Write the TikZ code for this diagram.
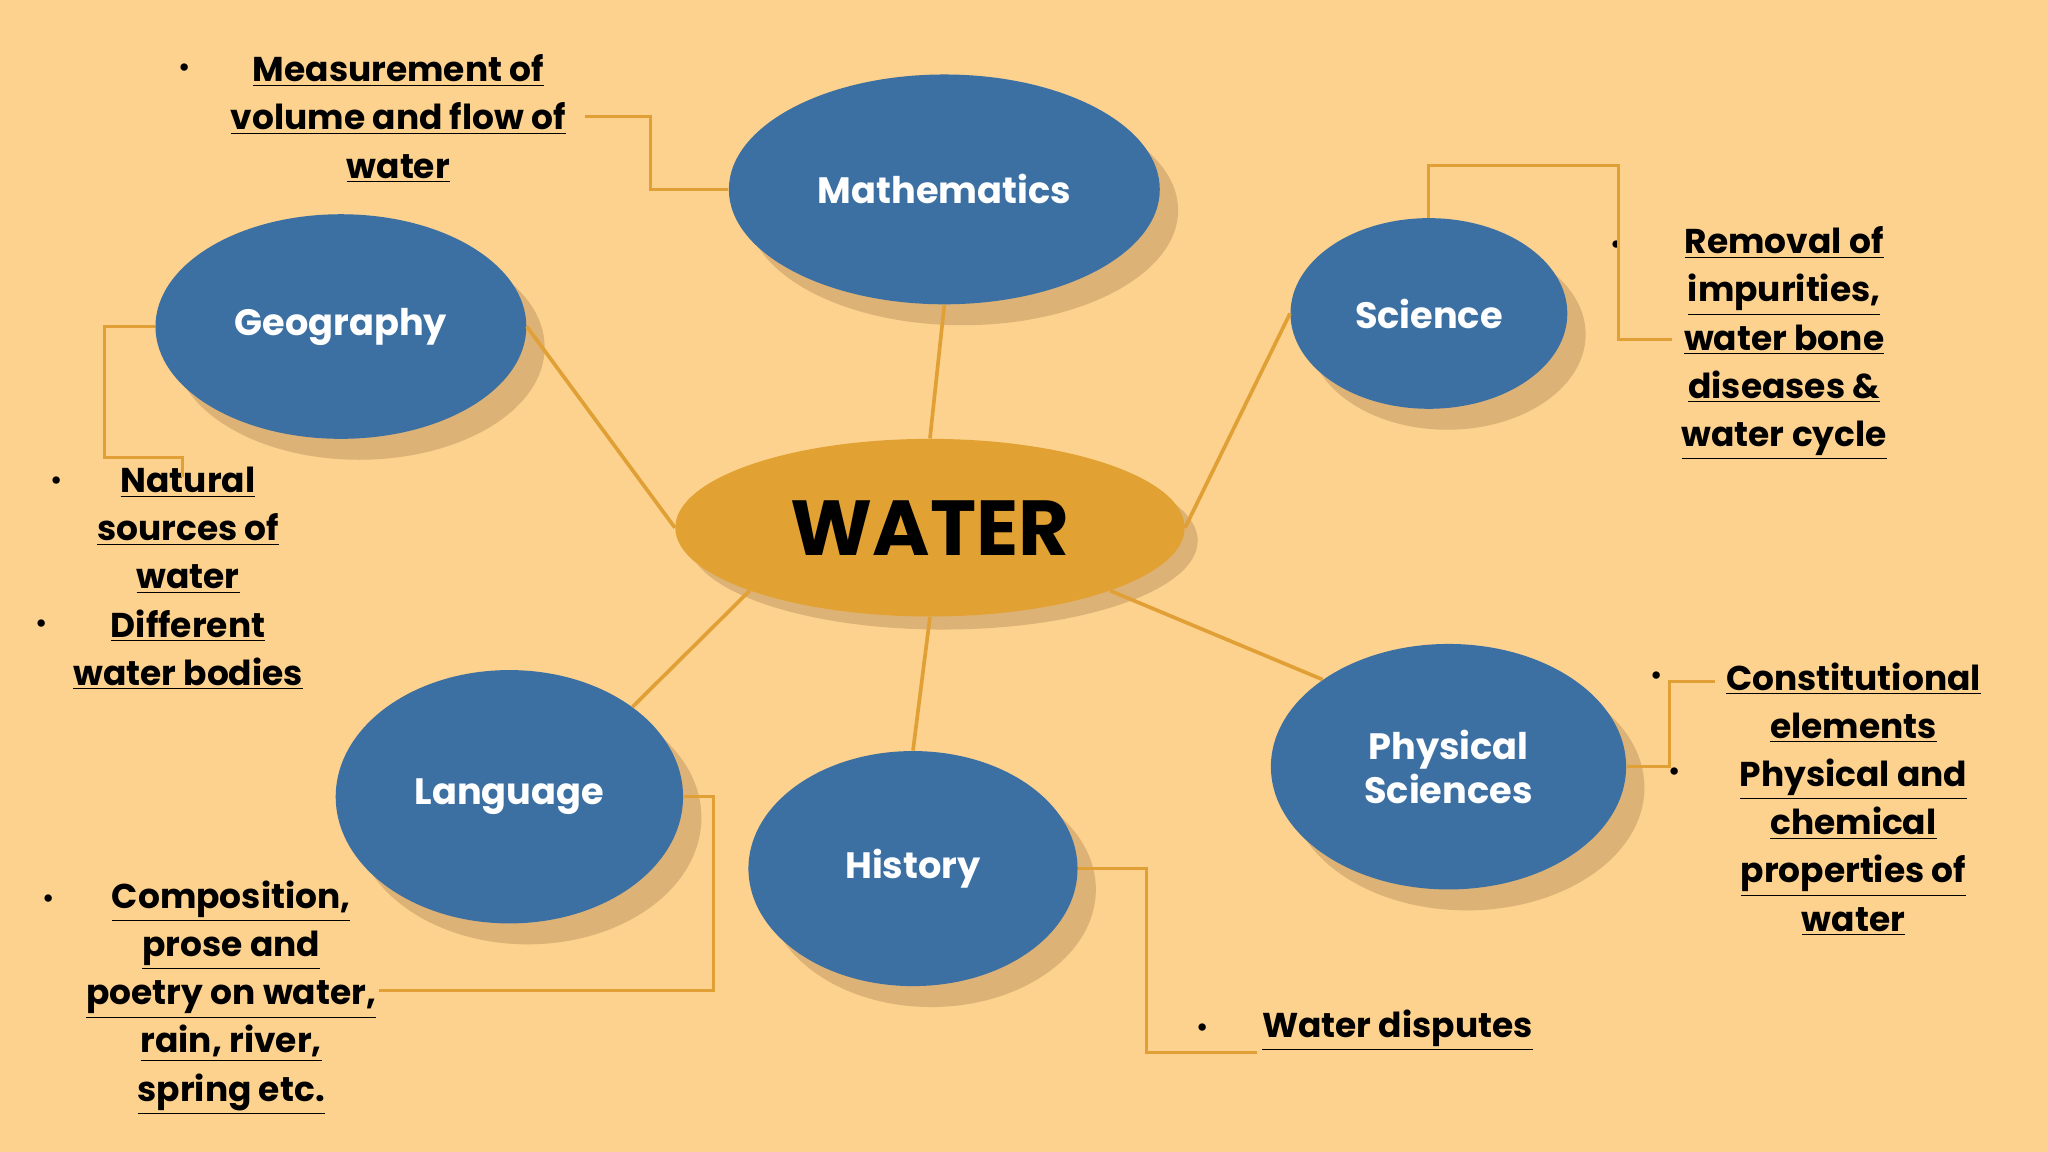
\documentclass[tikz,border=0pt]{standalone}
\usepackage{fontspec}
\setmainfont{Poppins}
\usetikzlibrary{shapes.geometric}
\definecolor{bg}{HTML}{FCD28E}
\definecolor{bl}{HTML}{3D70A2}
\definecolor{shd}{HTML}{DDB276}
\definecolor{org}{HTML}{E2A233}
\definecolor{ln}{HTML}{E0A035}
\newcommand\ulx[1]{\underline{#1}}
\tikzset{
  bub/.style={ellipse,fill=bl,text=white,inner sep=0pt,font=\bfseries\fontsize{16}{19}\selectfont,align=center},
  shad/.style={ellipse,fill=shd,inner sep=0pt},
  conn/.style={draw=ln,line width=1.6pt},
  brk/.style={draw=ln,line width=1.3pt},
  lbl/.style={align=center,font=\bfseries\fontsize{15}{21}\selectfont,text=black,inner sep=0pt},
  bul/.style={font=\fontsize{13}{13}\selectfont,inner sep=0pt}
}
\begin{document}
\begin{tikzpicture}[x=0.02cm,y=-0.02cm]
\fill[bg] (0,0) rectangle (1568,882);
\useasboundingbox (0,0) rectangle (1568,882);
% shadows
\foreach \x/\y/\a/\b in {723/145/330/176, 261/250/284/172, 1094/240/212/146, 390/610/266/194, 699/665/252/180, 1109/587/272/188}
  \node[shad,minimum width=\a*0.02cm,minimum height=\b*0.02cm] at (\x+14,\y+16) {};
\node[shad,minimum width=7.8cm,minimum height=2.72cm] at (722,414) {};
% bubbles
\node[bub,minimum width=6.6cm,minimum height=3.52cm] (m) at (723,145) {Mathematics};
\node[bub,minimum width=5.68cm,minimum height=3.44cm] (g) at (261,250) {Geography};
\node[bub,minimum width=4.24cm,minimum height=2.92cm] (s) at (1094,240) {Science};
\node[bub,minimum width=5.32cm,minimum height=3.88cm] (l) at (390,610) {Language};
\node[bub,minimum width=5.04cm,minimum height=3.6cm] (h) at (699,665) {History};
\node[bub,minimum width=5.44cm,minimum height=3.76cm] (p) at (1109,587) {Physical\\Sciences};
\node[ellipse,fill=org,inner sep=0pt,minimum width=7.8cm,minimum height=2.72cm,font=\bfseries\fontsize{34}{34}\selectfont] (w) at (712,404) {WATER};
% connectors
\draw[conn] (m.south) -- (w.north);
\draw[conn] (g.east) -- (w.west);
\draw[conn] (s.west) -- (w.east);
\draw[conn] (l.north east) -- (w.south west);
\draw[conn] (h.north) -- (w.south);
\draw[conn] (p.north west) -- (w.south east);
% labels
\node[lbl] (tm) at (305,91) {\ulx{Measurement of}\\\ulx{volume and flow of}\\\ulx{water}};
\node[bul] at (141,54) {•};
\node[lbl] (tg) at (144,443) {\ulx{Natural}\\\ulx{sources of}\\\ulx{water}\\\ulx{Different}\\\ulx{water bodies}};
\node[bul] at (43,370) {•};
\node[bul] at (32,480) {•};
\node[lbl] (ts) at (1366,263) {\ulx{Removal of}\\\ulx{impurities,}\\\ulx{water bone}\\\ulx{diseases \&}\\\ulx{water cycle}};
\node[bul] at (1238,190) {•};
\node[lbl] (tp) at (1419,612) {\ulx{Constitutional}\\\ulx{elements}\\\ulx{Physical and}\\\ulx{chemical}\\\ulx{properties of}\\\ulx{water}};
\node[bul] at (1268,520) {•};
\node[bul] at (1282,593) {•};
\node[lbl] (tl) at (177,764) {\ulx{Composition,}\\\ulx{prose and}\\\ulx{poetry on water,}\\\ulx{rain, river,}\\\ulx{spring etc.}};
\node[bul] at (37,690) {•};
\node[lbl,anchor=west] (th) at (966,789) {\ulx{Water disputes}};
\node[bul] at (921,789) {•};
% brackets
\coordinate (cm) at (448,89);
\draw[brk] (m.west) -| (498,89) -- (cm);
\coordinate (cg) at (140,365);
\draw[brk] (g.west) -| (80,350) -| (cg);
\coordinate (cs) at (1280,260);
\draw[brk] (s.north) |- (1239,127) |- (cs);
\coordinate (cp) at (1313,522);
\draw[brk] (p.east) -| (1278,522) -- (cp);
\coordinate (cl) at (290,758);
\draw[brk] (l.east) -| (546,758) -- (cl);
\coordinate (ch) at (962,806);
\draw[brk] (h.east) -| (878,806) -- (ch);
\end{tikzpicture}
\end{document}
